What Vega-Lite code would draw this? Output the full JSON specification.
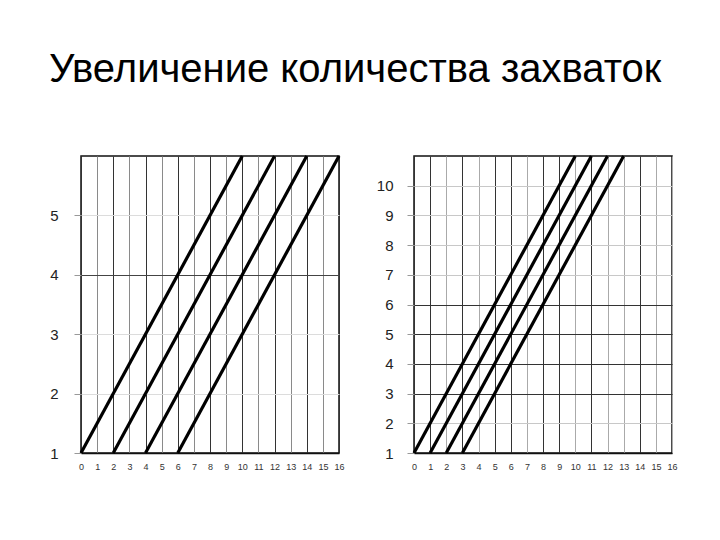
{
  "$schema": "https://vega.github.io/schema/vega-lite/v6.json",
  "padding": {"left": 48, "top": 49, "right": 5, "bottom": 5},
  "background": "white",
  "title": {"text": "Увеличение количества захваток", "anchor": "start", "frame": "bounds", "font": "Liberation Sans", "fontSize": 40, "fontWeight": "normal", "color": "#000", "offset": 59},
  "datasets": {
    "left": [
      {"s": "a", "x": 0, "y": 1}, {"s": "a", "x": 10, "y": 6},
      {"s": "b", "x": 2, "y": 1}, {"s": "b", "x": 12, "y": 6},
      {"s": "c", "x": 4, "y": 1}, {"s": "c", "x": 14, "y": 6},
      {"s": "d", "x": 6, "y": 1}, {"s": "d", "x": 16, "y": 6}
    ],
    "right": [
      {"s": "a", "x": 0, "y": 1}, {"s": "a", "x": 10, "y": 11},
      {"s": "b", "x": 1, "y": 1}, {"s": "b", "x": 11, "y": 11},
      {"s": "c", "x": 2, "y": 1}, {"s": "c", "x": 12, "y": 11},
      {"s": "d", "x": 3, "y": 1}, {"s": "d", "x": 13, "y": 11}
    ]
  },
  "spacing": 28,
  "hconcat": [
    {
      "width": 258,
      "height": 297,
      "data": {"name": "left"},
      "mark": {"type": "line", "color": "#000", "strokeWidth": 3.2},
      "encoding": {
        "x": {"field": "x", "type": "quantitative", "scale": {"domain": [0, 16], "nice": false},
          "axis": {"title": null, "values": [0,1,2,3,4,5,6,7,8,9,10,11,12,13,14,15,16],
            "gridColor": {"condition": {"test": "datum.value % 2 == 0", "value": "#333"}, "value": "#8a8a8a"}}},
        "y": {"field": "y", "type": "quantitative", "scale": {"domain": [1, 6], "nice": false, "zero": false},
          "axis": {"title": null, "values": [1,2,3,4,5], "labelPadding": 16,
            "gridColor": {"condition": {"test": "datum.value == 4", "value": "#444"}, "value": "#dcdcdc"}}},
        "detail": {"field": "s", "type": "nominal"}
      }
    },
    {
      "width": 258,
      "height": 297,
      "data": {"name": "right"},
      "mark": {"type": "line", "color": "#000", "strokeWidth": 3.2},
      "encoding": {
        "x": {"field": "x", "type": "quantitative", "scale": {"domain": [0, 16], "nice": false},
          "axis": {"title": null, "values": [0,1,2,3,4,5,6,7,8,9,10,11,12,13,14,15,16],
            "gridColor": {"condition": {"test": "indexof([0,1,3,5,6,8,9,11,14], datum.value) >= 0", "value": "#333"}, "value": "#aaaaaa"}}},
        "y": {"field": "y", "type": "quantitative", "scale": {"domain": [1, 11], "nice": false, "zero": false},
          "axis": {"title": null, "values": [1,2,3,4,5,6,7,8,9,10], "labelPadding": 14,
            "gridColor": {"condition": {"test": "datum.value >= 3 && datum.value <= 6", "value": "#333"}, "value": "#c8c8c8"}}},
        "detail": {"field": "s", "type": "nominal"}
      }
    }
  ],
  "config": {
    "view": {"stroke": "#111", "strokeWidth": 1.5},
    "axis": {"labelFont": "Liberation Sans", "domain": true, "domainColor": "#111", "domainWidth": 1.5, "gridWidth": 1, "gridOpacity": 1},
    "axisX": {"ticks": false, "labelFontSize": 9, "labelColor": "#333", "labelPadding": 9, "labelFlush": false},
    "axisY": {"ticks": true, "tickSize": 7, "tickColor": "#999", "labelFontSize": 15, "labelColor": "#222", "domain": false}
  }
}
